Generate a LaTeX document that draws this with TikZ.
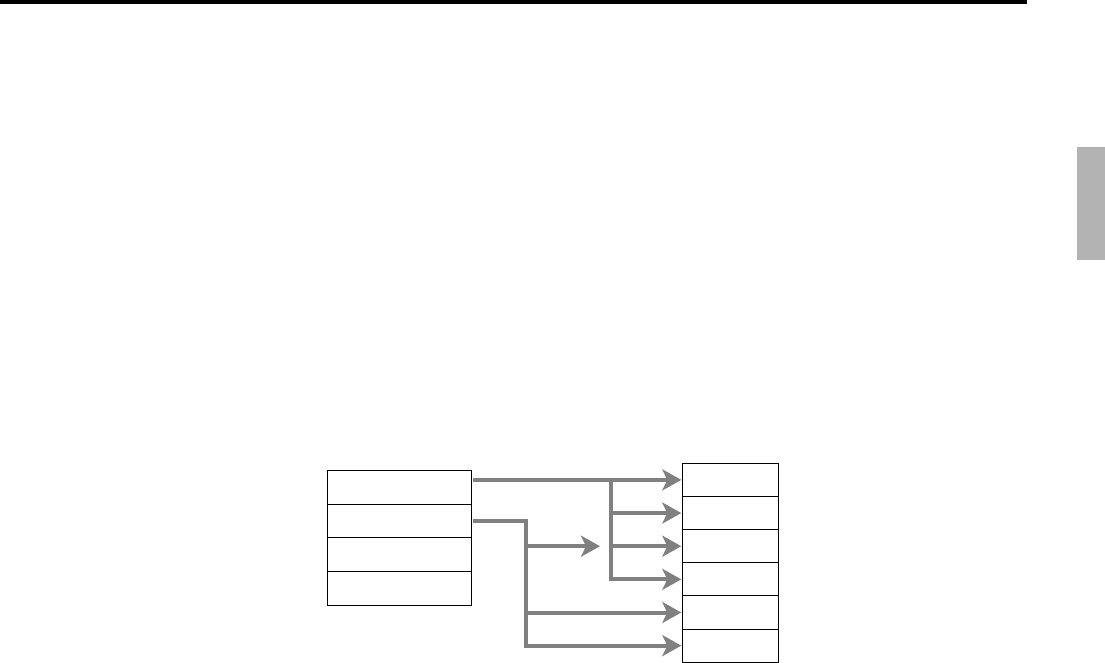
\documentclass[tikz,border=0pt]{standalone}
\usepackage[usenames,dvipsnames]{xcolor}
\usepackage{tikz}
\usetikzlibrary{arrows.meta,positioning}
\definecolor{flowgray}{HTML}{808080}
\definecolor{tabgray}{HTML}{B3B3B3}

\begin{document}
\begin{tikzpicture}[x=1pt,y=-1pt,
  lcell/.style={draw,line width=1pt,minimum width=144.4pt,minimum height=33.75pt,inner sep=0pt,outer sep=0pt},
  rcell/.style={draw,line width=1pt,minimum width=96pt,minimum height=33.15pt,inner sep=0pt,outer sep=0pt},
  flow/.style={draw=flowgray,line width=4pt,-{Stealth[length=19pt,width=21pt,inset=5pt,fill=flowgray]},shorten >=1pt}]
\useasboundingbox (0,0) rectangle (1105,663);
\fill[black] (0,0) rectangle (1027,4);
\fill[tabgray] (1077,147) rectangle (1105,260);
% left table
\node[lcell] (L1) at (399.5,487.2) {};
\node[lcell,below=0pt of L1] (L2) {};
\node[lcell,below=0pt of L2] (L3) {};
\node[lcell,below=0pt of L3] (L4) {};
% right table
\node[rcell] (R1) at (730.3,479.9) {};
\node[rcell,below=0pt of R1] (R2) {};
\node[rcell,below=0pt of R2] (R3) {};
\node[rcell,below=0pt of R3] (R4) {};
\node[rcell,below=0pt of R4] (R5) {};
\node[rcell,below=0pt of R5] (R6) {};
% branch points
\coordinate (j1) at (611,0);
\coordinate (j2) at (526,0);
\coordinate (tip) at (600,0);
% first line
\draw[flow] ([xshift=1pt]L1.east |- R1.west) -- (R1.west);
\draw[flow] (j1 |- R1.west) |- (R4.west);
\draw[flow] (j1 |- R2.west) -- (R2.west);
\draw[flow] (j1 |- R3.west) -- (R3.west);
% second line
\draw[flow] ([xshift=1pt]L2.east) -| (j2 |- R6.west) -- (R6.west);
\draw[flow] (j2 |- R5.west) -- (R5.west);
\draw[flow,shorten >=0pt] (j2 |- R3.west) -- (tip |- R3.west);
\end{tikzpicture}
\end{document}
